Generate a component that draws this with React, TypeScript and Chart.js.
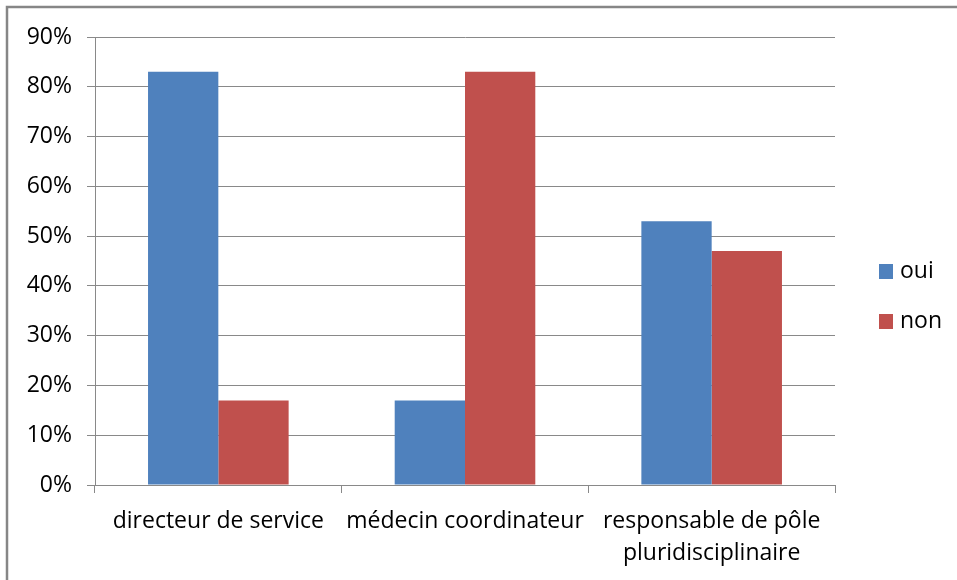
import React, { useEffect, useRef } from "react";
import { Chart, registerables } from "chart.js";

Chart.register(...registerables);

const categories: string[][] = [
  ["directeur de service"],
  ["médecin coordinateur"],
  ["responsable de pôle", "pluridisciplinaire"],
];
const seriesNames = ["oui", "non"];
const ouiValues = [83, 17, 53];
const nonValues = [17, 83, 47];
const seriesColors = ["#4F81BD", "#C0504D"];
const yMin = 0;
const yMax = 90;
const yStep = 10;

const FONT = "'Open Sans', 'Liberation Sans', sans-serif";
const FONT_SIZE = 23;
const GRID = "#898989";

const borderPlugin = {
  id: "outerBorder",
  beforeDraw(chart: any) {
    const ctx = chart.ctx;
    ctx.save();
    ctx.strokeStyle = "#868686";
    ctx.lineWidth = 2.5;
    ctx.strokeRect(7, 7, chart.width + 20, chart.height + 20);
    ctx.restore();
  },
};

const legendPlugin = {
  id: "customLegend",
  afterDraw(chart: any) {
    const ctx = chart.ctx;
    const ds = chart.data.datasets;
    const spacing = 50;
    const n = ds.length;
    const cy0 = (chart.height + 12) / 2 - (spacing * (n - 1)) / 2;
    const x0 = chart.chartArea.right + 44;
    ctx.save();
    ctx.font = `${FONT_SIZE}px ${FONT}`;
    ctx.textBaseline = "middle";
    ctx.textAlign = "left";
    ds.forEach((d: any, i: number) => {
      const cy = cy0 + i * spacing;
      ctx.fillStyle = d.backgroundColor;
      ctx.fillRect(x0, cy - 7, 14, 15);
      ctx.fillStyle = "#000000";
      ctx.fillText(d.label, x0 + 21, cy);
    });
    ctx.restore();
  },
};

export default function App() {
  const ref = useRef<HTMLCanvasElement | null>(null);

  useEffect(() => {
    if (!ref.current) return;
    const chart = new Chart(ref.current, {
      type: "bar",
      data: {
        labels: categories,
        datasets: [
          {
            label: seriesNames[0],
            data: ouiValues,
            backgroundColor: seriesColors[0],
            categoryPercentage: 0.57,
            barPercentage: 1,
          },
          {
            label: seriesNames[1],
            data: nonValues,
            backgroundColor: seriesColors[1],
            categoryPercentage: 0.57,
            barPercentage: 1,
          },
        ],
      },
      options: {
        responsive: false,
        animation: false,
        layout: { padding: { left: 0, top: 37, right: 122, bottom: 0 } },
        plugins: {
          legend: { display: false },
          tooltip: { enabled: false },
        },
        scales: {
          x: {
            grid: {
              display: true,
              drawOnChartArea: false,
              drawTicks: true,
              tickLength: 8,
              color: GRID,
              offset: true,
            },
            border: { color: GRID, width: 1 },
            ticks: {
              color: "#000000",
              font: { family: FONT, size: FONT_SIZE, lineHeight: 1.4 },
              padding: 12,
              maxRotation: 0,
              autoSkip: false,
            },
            afterFit(s: any) {
              s.height = 95;
            },
          },
          y: {
            min: yMin,
            max: yMax,
            grid: {
              color: GRID,
              tickLength: 8,
              drawTicks: true,
            },
            border: { color: GRID, width: 1 },
            ticks: {
              stepSize: yStep,
              color: "#000000",
              font: { family: FONT, size: FONT_SIZE },
              padding: 15,
              callback: (v: any) => `${v}%`,
            },
            afterFit(s: any) {
              s.width = 95;
            },
          },
        },
      },
      plugins: [borderPlugin, legendPlugin],
    });
    return () => chart.destroy();
  }, []);

  return (
    <div style={{ position: "absolute", left: 0, top: 0, width: 957, height: 580 }}>
      <canvas ref={ref} width={957} height={580} />
    </div>
  );
}
